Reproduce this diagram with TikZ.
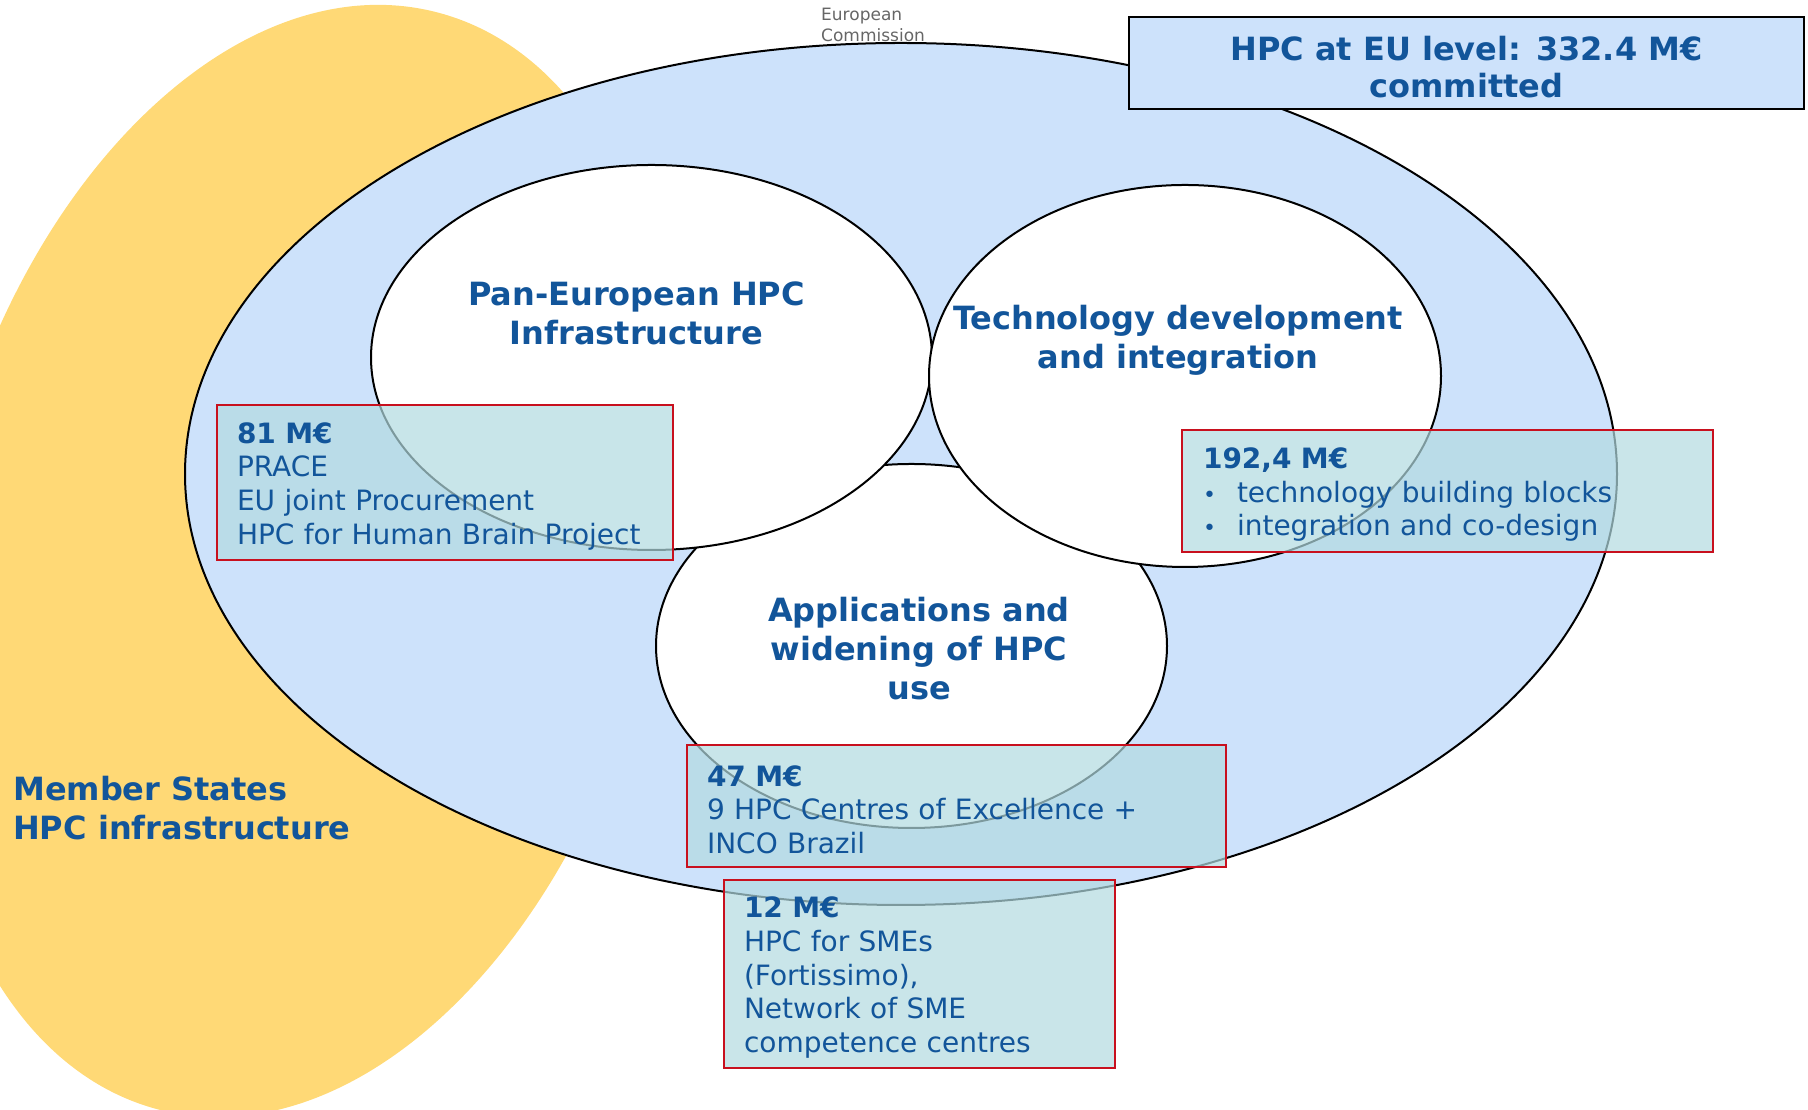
\documentclass[tikz,border=0pt]{standalone}
\usepackage{fontspec}
\setmainfont{DejaVu Sans}
\usetikzlibrary{shapes.geometric}
\definecolor{msyellow}{RGB}{255,217,118}
\definecolor{eublue}{RGB}{205,226,251}
\definecolor{txtblue}{RGB}{18,85,154}
\definecolor{boxred}{RGB}{200,16,30}
\definecolor{boxteal}{RGB}{178,218,224}
\begin{document}
\begin{tikzpicture}[x=1pt,y=1pt,
    ring/.style={ellipse, draw, line width=2pt, fill=white, inner sep=0pt},
    fundbox/.style={rectangle, draw=boxred, line width=2.5pt, fill=boxteal, fill opacity=0.7, text opacity=1,
      text=txtblue, inner xsep=20pt, inner ysep=0pt, align=left, font=\fontsize{28}{33.7}\selectfont,
      execute at begin node={\rule{0pt}{28pt}}},
    title/.style={text=txtblue, align=center, inner sep=0pt, font=\bfseries\fontsize{32}{39}\selectfont}]
  \useasboundingbox (0,0) rectangle (1808,1110);
  \fill[msyellow, rotate around={-14:(298,549)}] (298,549) ellipse [x radius=360, y radius=566];
  \node[ellipse, draw, line width=2pt, fill=eublue, inner sep=0pt, minimum width=1432pt, minimum height=862pt] (eu) at (901,636) {};
  \node[ring, minimum width=511pt, minimum height=364pt] (apps) at (911.5,464) {};
  \node[ring, minimum width=561pt, minimum height=385pt] (pan) at (651.5,752.5) {};
  \node[ring, minimum width=512pt, minimum height=382pt] (tech) at (1185,734) {};
  \node[title] (pantitle) at (636.5,796.5) {Pan-European HPC\\Infrastructure};
  \node[title] (techtitle) at (1178,769.5) {Technology development\\and integration};
  \node[title] (appstitle) at (919,461) {Applications and\\widening of HPC\\use};
  \node[fundbox, text width=416pt, minimum height=155pt] (f81) at (445,627.5)
    {\textbf{81 M€}\\PRACE\\EU joint Procurement\\HPC for Human Brain Project};
  \node[fundbox, inner xsep=21pt, text width=489pt, minimum height=122pt] (f192) at (1447.5,619)
    {\textbf{192,4 M€}\\\makebox[34pt][l]{\fontsize{22}{22}\selectfont•}technology building blocks\\\makebox[34pt][l]{\fontsize{22}{22}\selectfont•}integration and co-design};
  \node[fundbox, text width=499pt, minimum height=122pt] (f47) at (956.5,304)
    {\textbf{47 M€}\\9 HPC Centres of Excellence +\\INCO Brazil};
  \node[fundbox, text width=351pt, minimum height=188pt] (f12) at (919.5,136)
    {\textbf{12 M€}\\HPC for SMEs\\(Fortissimo),\\Network of SME\\competence centres};
  \node[draw, line width=2.5pt, fill=eublue, minimum width=675pt, minimum height=92pt, inner sep=0pt,
    text=txtblue, align=center, font=\bfseries\fontsize{32}{37}\selectfont] (total) at (1466.5,1047)
    {\rule{0pt}{33pt}HPC at EU level: 332.4 M€\\committed};
  \node[anchor=west, text=txtblue, align=left, inner sep=0pt, font=\bfseries\fontsize{32}{39}\selectfont] (ms) at (13,302)
    {Member States\\HPC infrastructure};
  \node[anchor=north west, text=gray!80!black, align=left, inner sep=0pt, font=\fontsize{17}{21}\selectfont] (ec) at (821,1102)
    {European\\Commission};
\end{tikzpicture}
\end{document}
